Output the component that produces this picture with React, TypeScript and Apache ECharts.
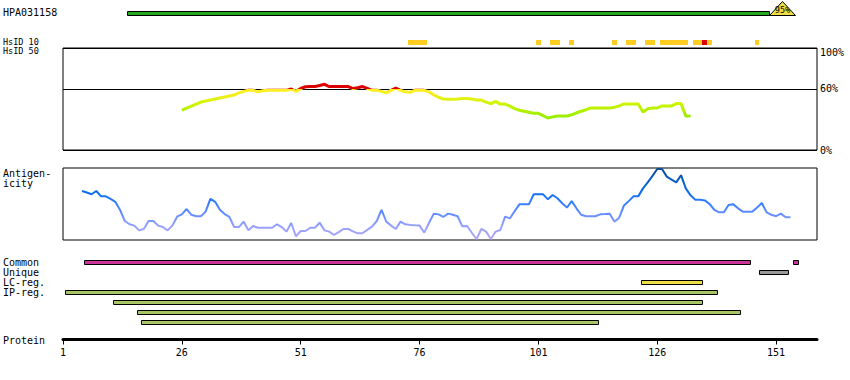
import { useEffect, useRef } from 'react';
import * as echarts from 'echarts';

const FONT = 'DejaVu Sans Mono';

// Protein axis
const proteinTickLabels = ['1', '26', '51', '76', '101', '126', '151'];
const proteinAxisEnd = 159.6; // axis end, in residues
const tickStep = 25;

// Antibody (PrEST) bar
const antibodyName = 'HPA031158';
const antibodyRange = [15, 149];
const antibodyIdentity = '95%';

// HsID 10 blocks (residue ranges)
const hsid10Orange = [
  [74, 77], [101, 101], [104, 105], [108, 108], [117, 117], [120, 121],
  [124, 125], [127, 132], [134, 135], [137, 137], [147, 147],
];
const hsid10Red = [[136, 136]];

// HsID 50 identity line (%), one value per residue from hsid50FirstResidue
const hsid50FirstResidue = 26;
const hsid50Values = [
  39, 41, 43, 45, 47, 48, 49, 50, 51, 52,
  53, 54, 56, 57.5, 58.5, 58.5, 57, 58, 58.5, 58.5,
  58.5, 58.5, 58.5, 59.8, 57.5, 60.3, 62, 62.2, 62.2, 63.2,
  64.4, 62.2, 62.2, 62.2, 62.2, 62.2, 60.2, 61, 62.2, 60.5,
  58.5, 58.5, 57.5, 56, 58.5, 60.8, 58.5, 57, 56.5, 58.5,
  58.5, 58.5, 57, 54, 51.7, 50, 49.7, 49.7, 50, 50.4,
  50.4, 50, 49, 49, 47, 45.5, 47.7, 45, 45, 43,
  40.5, 39, 38, 37, 36, 36, 33.7, 31.4, 32.5, 33.4,
  33.4, 33.4, 34.5, 36.5, 38, 39.5, 41.2, 41.2, 41.2, 41.2,
  41.2, 42, 43.2, 45.2, 45.2, 45.2, 45.2, 37.3, 40.5, 41.2,
  41.2, 43.2, 43.2, 43.2, 45.5, 45.5, 33.4, 33.4,
];

// Antigenicity (0-100 scale of the box), one value per residue from antigenFirstResidue
const antigenFirstResidue = 5;
const antigenValues = [
  68, 66, 63.5, 68, 60.6, 60.6, 57, 53, 41.7, 26.4,
  21.8, 20, 13.4, 15.3, 26.4, 26.4, 20, 18, 13.4, 20,
  32.4, 35.6, 43, 35, 33, 33, 39.4, 57, 53, 42,
  36, 32, 18, 18, 25.5, 13.4, 19.4, 17, 17, 17,
  17, 21.8, 18, 11.6, 23.6, 5, 12.5, 12.5, 17, 17,
  24, 13.4, 11.6, 7, 11, 15.3, 15.3, 12, 9.3, 9.3,
  14, 18.5, 26.4, 41.7, 25.5, 20, 15.3, 25.5, 21.8, 21,
  20.4, 20, 10.2, 24, 36.6, 35.6, 32, 36.6, 35, 33,
  19, 19.4, 10, 1.4, 15.3, 11.6, 1.4, 11.6, 13.9, 32.4,
  30, 40, 49.5, 49.5, 49.5, 63.4, 63.4, 63.4, 56.5, 62.5,
  58, 51, 45, 54, 44, 35, 33, 33, 33, 35.6,
  36, 36.6, 25.5, 31, 48, 54, 60.6, 60.6, 71.7, 80,
  89, 98.6, 98.6, 88, 84, 80, 90, 71.7, 62, 56,
  56, 55, 50, 42, 38.4, 38.4, 48.6, 49.5, 44, 39.4,
  39.4, 39.4, 45, 51.4, 38.4, 35, 33, 36.6, 31.5, 31.5,
];

// Feature tracks
const trackLabels = ['Common', 'Unique', 'LC-reg.', 'IP-reg.', ' ', '  ', '   '];
const commonRanges = [[6, 145], [155, 155]];
const uniqueRanges = [[148, 153]];
const lcRanges = [[123, 135]];
const ipRanges = [[2, 138], [12, 135], [17, 143], [18, 113]];

const trackColors = ['#cc3399', '#999999', '#eedd44', '#a6c663'];
const hsid10Colors = ['#ffcc22', '#dd0000'];

const toAxis = (r: number) => r - 1;
const span = (a: number, b: number) => [toAxis(a) - 0.5, toAxis(b) + 0.5];
const AXIS_MAX = toAxis(proteinAxisEnd);

export default function App() {
  const ref = useRef<HTMLDivElement>(null);

  useEffect(() => {
    if (!ref.current) return;
    const chart = echarts.init(ref.current, undefined, { renderer: 'svg' });

    const hpaData = [[...span(antibodyRange[0], antibodyRange[1]), 0]];
    const hsid10Data = [
      ...hsid10Orange.map(([a, b]) => [...span(a, b), 0, 0]),
      ...hsid10Red.map(([a, b]) => [...span(a, b), 0, 1]),
    ];
    const trackData = [
      ...commonRanges.map(([a, b]) => [...span(a, b), 0, 0]),
      ...uniqueRanges.map(([a, b]) => [...span(a, b), 1, 1]),
      ...lcRanges.map(([a, b]) => [...span(a, b), 2, 2]),
      ...ipRanges.map(([a, b], i) => [...span(a, b), 3 + i, 3]),
    ];
    const hsid50Data = hsid50Values.map((v, i) => [toAxis(hsid50FirstResidue + i), v]);
    const antigenData = antigenValues.map((v, i) => [toAxis(antigenFirstResidue + i), v]);

    const gridBase = { left: 63, width: 754 };
    const hiddenX = (gridIndex: number) => ({
      type: 'value', gridIndex, min: 0, max: AXIS_MAX, show: false,
    });
    const catY = (gridIndex: number, data: string[], fontSize: number, lineHeight: number) => ({
      type: 'category', gridIndex, data, inverse: true,
      axisLine: { show: false }, axisTick: { show: false }, splitLine: { show: false },
      axisLabel: {
        show: true, interval: 0, align: 'left', margin: 60,
        color: '#000', fontFamily: FONT, fontSize, lineHeight,
      },
    });

    const option: any = {
      animation: false,
      textStyle: { fontFamily: FONT },
      grid: [
        { ...gridBase, top: 7.5, height: 10 },
        { ...gridBase, top: 36.7, height: 19.6 },
        { ...gridBase, top: 48, height: 102, show: true, borderColor: '#000', borderWidth: 1, backgroundColor: 'transparent' },
        { ...gridBase, top: 168, height: 72, show: true, borderColor: '#000', borderWidth: 1, backgroundColor: 'transparent' },
        { ...gridBase, top: 257.3, height: 70 },
        { ...gridBase, top: 330, height: 9.5 },
      ],
      xAxis: [
        hiddenX(0), hiddenX(1), hiddenX(2), hiddenX(3), hiddenX(4),
        {
          type: 'value', gridIndex: 5, min: 0, max: AXIS_MAX, interval: tickStep,
          position: 'bottom',
          axisLine: { show: true, lineStyle: { color: '#000', width: 3 } },
          axisTick: { show: true, length: 5, lineStyle: { color: '#000', width: 1 } },
          splitLine: { show: false },
          axisLabel: {
            show: true, margin: 8, color: '#000', fontFamily: FONT, fontSize: 10,
            showMaxLabel: false,
            formatter: (v: number) => {
              const k = v / tickStep;
              return Number.isInteger(k) && k < proteinTickLabels.length ? proteinTickLabels[k] : '';
            },
          },
        },
      ],
      yAxis: [
        catY(0, [antibodyName], 10, 10),
        catY(1, ['HsID 10', 'HsID 50'], 8.5, 8),
        {
          type: 'value', gridIndex: 2, min: 0, max: 100, interval: 60, position: 'right',
          axisLine: { show: false }, axisTick: { show: false },
          splitLine: { show: true, lineStyle: { color: '#000', width: 1 } },
          axisLabel: {
            margin: 3, color: '#000', fontFamily: FONT, fontSize: 10,
            formatter: (v: number) => (v === 100 ? '{t|100%}' : v + '%'),
            rich: { t: { fontFamily: FONT, fontSize: 10, color: '#000', padding: [8, 0, 0, 0] } },
          },
        },
        { type: 'value', gridIndex: 3, min: 0, max: 100, show: false },
        catY(4, trackLabels, 10, 9.5),
        { type: 'value', gridIndex: 5, min: 0, max: 1, show: false },
      ],
      visualMap: [
        {
          type: 'piecewise', show: false, seriesIndex: 2, dimension: 1,
          pieces: [
            { lt: 33, color: '#99ee00' },
            { gte: 33, lt: 36, color: '#a3ee00' },
            { gte: 36, lt: 39, color: '#aef000' },
            { gte: 39, lt: 42, color: '#baf200' },
            { gte: 42, lt: 45, color: '#c6f400' },
            { gte: 45, lt: 48, color: '#d2f400' },
            { gte: 48, lt: 51, color: '#e0f210' },
            { gte: 51, lt: 54, color: '#ecf018' },
            { gte: 54, lt: 57, color: '#f6ee1e' },
            { gte: 57, lt: 60, color: '#ffee22' },
            { gte: 60, color: '#dd0000' },
          ],
        },
        {
          type: 'continuous', show: false, seriesIndex: 3, dimension: 1, min: 0, max: 100,
          inRange: { color: ['#b4a6f2', '#9aa2ff', '#6c90ff', '#3a80ff', '#0b6cee', '#0a5cc4', '#0d4a92'] },
        },
      ],
      graphic: [
        { type: 'text', x: 3, y: 173, style: { text: 'Antigen-', fontFamily: FONT, fontSize: 10, fill: '#000', verticalAlign: 'middle' } },
        { type: 'text', x: 3, y: 183, style: { text: 'icity', fontFamily: FONT, fontSize: 10, fill: '#000', verticalAlign: 'middle' } },
        { type: 'text', x: 3, y: 340, style: { text: 'Protein', fontFamily: FONT, fontSize: 10, fill: '#000', verticalAlign: 'middle' } },
      ],
      series: [
        {
          type: 'custom', xAxisIndex: 0, yAxisIndex: 0, clip: false, data: hpaData,
          renderItem: (_p: any, api: any) => {
            const s = api.coord([api.value(0), api.value(2)]);
            const e = api.coord([api.value(1), api.value(2)]);
            const x0 = Math.round(s[0]) + 0.5;
            const x1 = Math.round(e[0]) + 0.5;
            const y0 = Math.round(s[1] - 2) + 0.5;
            return {
              type: 'group',
              children: [
                { type: 'rect', shape: { x: x0, y: y0, width: x1 - x0, height: 4 }, style: { fill: '#22aa22', stroke: '#000', lineWidth: 1 } },
                { type: 'polygon', shape: { points: [[x1, y0 + 4], [x1 + 13, y0 - 10], [x1 + 26, y0 + 4]] }, style: { fill: '#eedd44', stroke: '#000', lineWidth: 1 } },
                { type: 'text', x: x1 + 13, y: y0 - 1.5, style: { text: antibodyIdentity, fontFamily: FONT, fontSize: 8.5, fill: '#000', align: 'center', verticalAlign: 'middle' } },
              ],
            };
          },
        },
        {
          type: 'custom', xAxisIndex: 1, yAxisIndex: 1, clip: false, data: hsid10Data,
          renderItem: (_p: any, api: any) => {
            const s = api.coord([api.value(0), api.value(2)]);
            const e = api.coord([api.value(1), api.value(2)]);
            const x0 = Math.round(s[0]);
            const x1 = Math.round(e[0]);
            const y0 = Math.round(s[1] - 1.6);
            return { type: 'rect', shape: { x: x0, y: y0, width: x1 - x0, height: 5 }, style: { fill: hsid10Colors[api.value(3)] } };
          },
        },
        {
          type: 'line', xAxisIndex: 2, yAxisIndex: 2, data: hsid50Data,
          showSymbol: false, symbol: 'none', lineStyle: { width: 3 },
        },
        {
          type: 'line', xAxisIndex: 3, yAxisIndex: 3, data: antigenData,
          showSymbol: false, symbol: 'none', lineStyle: { width: 2 },
        },
        {
          type: 'custom', xAxisIndex: 4, yAxisIndex: 4, clip: false, data: trackData,
          renderItem: (_p: any, api: any) => {
            const s = api.coord([api.value(0), api.value(2)]);
            const e = api.coord([api.value(1), api.value(2)]);
            const x0 = Math.round(s[0]) + 0.5;
            const x1 = Math.round(e[0]) + 0.5;
            const y0 = Math.round(s[1] - 2) + 0.5;
            return { type: 'rect', shape: { x: x0, y: y0, width: x1 - x0, height: 4 }, style: { fill: trackColors[api.value(3)], stroke: '#000', lineWidth: 1 } };
          },
        },
        { type: 'line', xAxisIndex: 5, yAxisIndex: 5, data: [] },
      ],
    };

    chart.setOption(option);
    return () => chart.dispose();
  }, []);

  return (
    <div
      ref={ref}
      style={{ position: 'fixed', left: 0, top: 0, width: 850, height: 380, background: '#fff' }}
    />
  );
}
